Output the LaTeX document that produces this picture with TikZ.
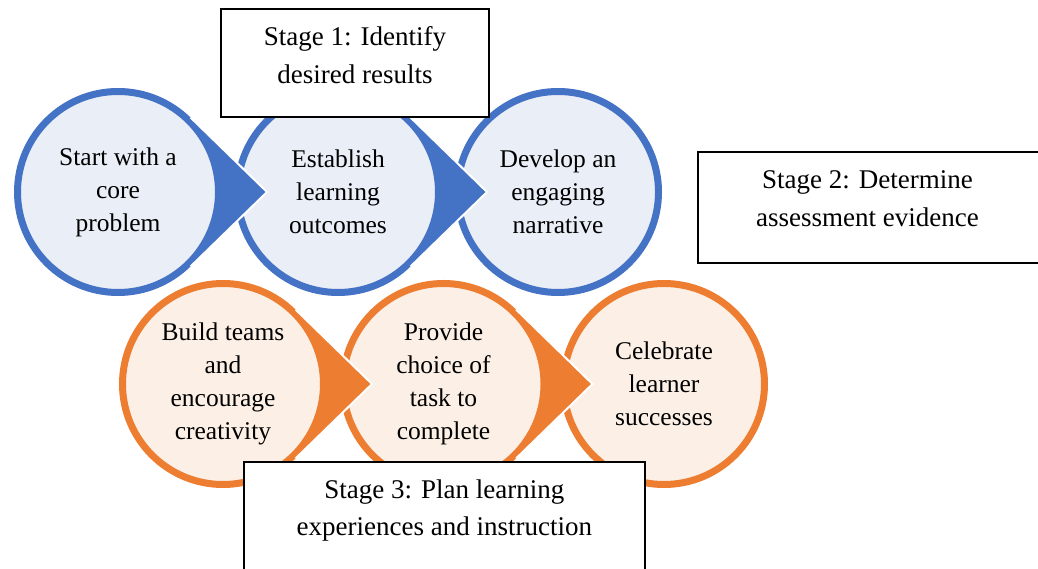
\documentclass[tikz,border=0pt]{standalone}
\usepackage{fontspec}
\setmainfont{Liberation Serif}
\usepackage{tikz}
\usetikzlibrary{ arrows, calc, positioning }
\definecolor{stageblue}{RGB}{68,114,196}
\definecolor{stagebluefill}{RGB}{233,238,247}
\definecolor{stageorange}{RGB}{237,125,49}
\definecolor{stageorangefill}{RGB}{251,239,230}
\tikzset{
x=1pt, y=1pt, % one unit is one point of the page
step circle/.style={circle, minimum size=201pt, inner sep=0pt, outer sep=0pt, line width=7pt, align=center, font=\fontsize{25.5}{33}\selectfont}, % sets the looks of each step
blue step/.style={step circle, draw=stageblue, fill=stagebluefill},
orange step/.style={step circle, draw=stageorange, fill=stageorangefill},
stage box/.style={draw=black, fill=white, line width=1.8pt, anchor=north west, inner sep=0pt}, % the framed stage titles
stage text/.style={align=center, inner sep=0pt, anchor=north, font=\fontsize{27}{37.5}\selectfont},
}
% the pointed tab on the right of a step, #1 = node, #2 = colour
\newcommand{\tippointer}[2]{%
  \fill[#2] ($(#1.center)+(45.7:104pt)$) -- ($(#1.center)+(149pt,0pt)$) -- ($(#1.center)+(-45.7:104pt)$)
    -- ($(#1.center)+(-45.7:100pt)$) arc[start angle=-45.7, end angle=45.7, radius=100pt] -- cycle;
  \draw[white, line width=2pt, line join=miter] ($(#1.center)+(45.7:104pt)$) -- ($(#1.center)+(149pt,0pt)$) -- ($(#1.center)+(-45.7:104pt)$);}

\begin{document}
\begin{tikzpicture}
  \useasboundingbox (0,0) rectangle (1038,569);
  \clip (0,0) rectangle (1038,569);
  % first row
  \node[blue step] (b1) at (118,377) {Start with a\\core\\problem};
  \node[blue step, right=19pt of b1] (b2) {Establish\\learning\\outcomes};
  \node[blue step, right=19pt of b2] (b3) {Develop an\\engaging\\narrative};
  \tippointer{b2}{stageblue}
  \tippointer{b1}{stageblue}
  % second row
  \node[orange step] (o1) at (223,185) {Build teams\\and\\encourage\\creativity};
  \node[orange step, right=19.5pt of o1] (o2) {Provide\\choice of\\task to\\complete};
  \node[orange step, right=19.5pt of o2] (o3) {Celebrate\\learner\\successes};
  \tippointer{o2}{stageorange}
  \tippointer{o1}{stageorange}
  % stages
  \node[stage box, minimum width=268pt, minimum height=108pt] (s1) at (220,561) {};
  \node[stage text, below=18.5pt of s1.north] (t1) {Stage 1: Identify\\desired results};
  \node[stage box, minimum width=360pt, minimum height=111pt] (s2) at (697,418) {};
  \node[stage text, below=19.5pt of s2.north, xshift=-10.5pt] (t2) {Stage 2: Determine\\assessment evidence};
  \node[stage box, minimum width=401pt, minimum height=130pt] (s3) at (243,108) {};
  \node[stage text, below=18.5pt of s3.north] (t3) {Stage 3: Plan learning\\experiences and instruction};
\end{tikzpicture}
\end{document}
